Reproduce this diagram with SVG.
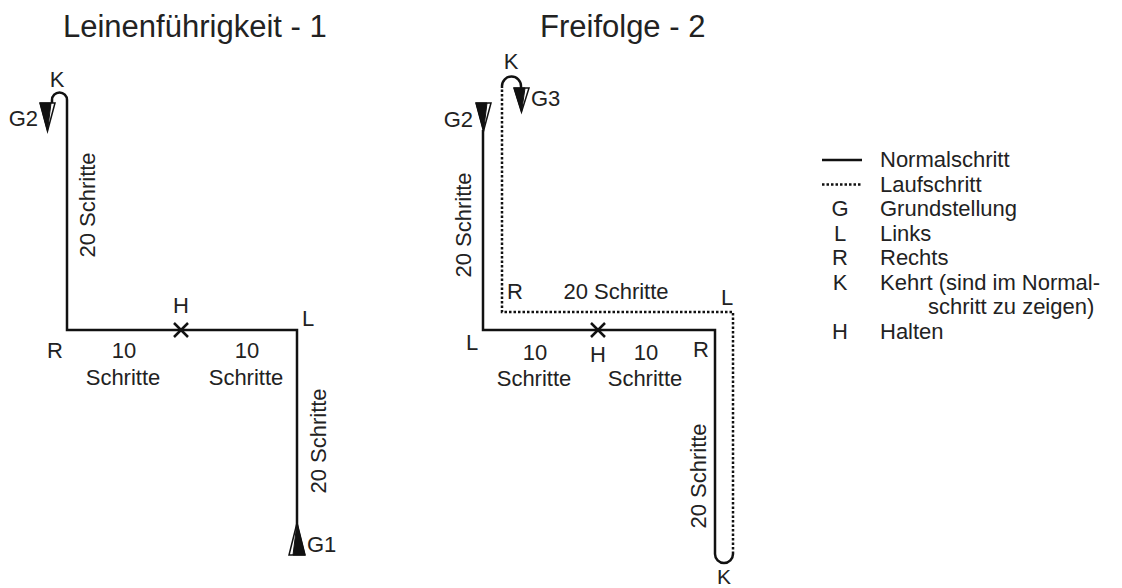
<svg xmlns="http://www.w3.org/2000/svg" width="1122" height="588" viewBox="0 0 1122 588">
<style>
text{font-family:"Liberation Sans",Arial,sans-serif;fill:#222;}
.t{font-size:31px;}
.l{font-size:22px;}
.s{stroke:#111;stroke-width:2.5;fill:none;}
.d{stroke:#111;stroke-width:2.5;fill:none;stroke-dasharray:2.5 2;}
.b{fill:#111;stroke:#111;stroke-width:1;}
.w{fill:#fff;stroke:#111;stroke-width:1.5;}
</style>
<rect width="1122" height="588" fill="#fff"/>
<g id="titles">
<text class="t" x="63" y="37">Leinenführigkeit - 1</text>
<text class="t" x="540" y="37">Freifolge - 2</text>
</g>
<g id="connectors">
<path class="s" d="M52,103 L52,100 A7.5,7.5 0 0 1 67,100 L67,330 L297,330 L297,534"/>
<path class="s" d="M483,130 L483,330 L715,330 L715,554 A9,9 0 0 0 733,554"/>
<path class="d" d="M733,554 L733,312 L502,312 L502,88"/>
<path class="s" d="M502,88 L502,86 A9.5,9.5 0 0 1 521,86 L521,88"/>
<path class="s" d="M174,323 L188,337 M188,323 L174,337"/>
<path class="s" d="M591,323 L605,337 M605,323 L591,337"/>
</g>
<g id="marker-G2-left">
<path class="w" d="M40,103 L55,103 L47.5,131 Z"/>
<path class="b" d="M40,103 L51,103 L47.5,131 Z"/>
<text class="l" x="38" y="126" text-anchor="end">G2</text>
<text class="l" x="57" y="87" text-anchor="middle">K</text>
</g>
<g id="marker-G1">
<path class="w" d="M289,555 L305,555 L297,523 Z"/>
<path class="b" d="M293,555 L305,555 L297,523 Z"/>
<text class="l" x="307" y="552">G1</text>
</g>
<g id="labels-left">
<text class="l" transform="translate(95,205) rotate(-90)" text-anchor="middle">20 Schritte</text>
<text class="l" x="181" y="313" text-anchor="middle">H</text>
<text class="l" x="55" y="358" text-anchor="middle">R</text>
<text class="l" x="308" y="326" text-anchor="middle">L</text>
<text class="l" x="124" y="358" text-anchor="middle">10</text>
<text class="l" x="123" y="385" text-anchor="middle">Schritte</text>
<text class="l" x="247" y="358" text-anchor="middle">10</text>
<text class="l" x="246" y="385" text-anchor="middle">Schritte</text>
<text class="l" transform="translate(326,441) rotate(-90)" text-anchor="middle">20 Schritte</text>
</g>
<g id="marker-G2-right">
<path class="w" d="M476,103 L491,103 L483.5,131 Z"/>
<path class="b" d="M476,103 L487,103 L483.5,131 Z"/>
<text class="l" x="473" y="127" text-anchor="end">G2</text>
</g>
<g id="marker-G3">
<path class="w" d="M514,88 L529,88 L521.5,112 Z"/>
<path class="b" d="M514,88 L525,88 L521.5,112 Z"/>
<text class="l" x="531" y="106">G3</text>
<text class="l" x="511" y="69" text-anchor="middle">K</text>
</g>
<g id="labels-right">
<text class="l" transform="translate(471,225) rotate(-90)" text-anchor="middle">20 Schritte</text>
<text class="l" x="515" y="299" text-anchor="middle">R</text>
<text class="l" x="616" y="299" text-anchor="middle">20 Schritte</text>
<text class="l" x="727" y="305" text-anchor="middle">L</text>
<text class="l" x="472" y="350" text-anchor="middle">L</text>
<text class="l" x="598" y="362" text-anchor="middle">H</text>
<text class="l" x="535" y="360" text-anchor="middle">10</text>
<text class="l" x="534" y="386" text-anchor="middle">Schritte</text>
<text class="l" x="646" y="360" text-anchor="middle">10</text>
<text class="l" x="645" y="386" text-anchor="middle">Schritte</text>
<text class="l" x="701" y="357" text-anchor="middle">R</text>
<text class="l" transform="translate(706,476) rotate(-90)" text-anchor="middle">20 Schritte</text>
<text x="724" y="584" text-anchor="middle" style="font-size:21px">K</text>
</g>
<g id="legend">
<line class="s" x1="822" y1="160" x2="862" y2="160"/>
<line class="d" x1="822" y1="184.5" x2="862" y2="184.5"/>
<text class="l" x="880" y="167">Normalschritt</text>
<text class="l" x="880" y="191.5">Laufschritt</text>
<text class="l" x="840" y="216" text-anchor="middle">G</text>
<text class="l" x="880" y="216">Grundstellung</text>
<text class="l" x="840" y="240.5" text-anchor="middle">L</text>
<text class="l" x="880" y="240.5">Links</text>
<text class="l" x="840" y="265" text-anchor="middle">R</text>
<text class="l" x="880" y="265">Rechts</text>
<text class="l" x="840" y="289.5" text-anchor="middle">K</text>
<text class="l" x="880" y="289.5">Kehrt (sind im Normal-</text>
<text class="l" x="928" y="314">schritt zu zeigen)</text>
<text class="l" x="840" y="338.5" text-anchor="middle">H</text>
<text class="l" x="880" y="338.5">Halten</text>
</g>
</svg>
